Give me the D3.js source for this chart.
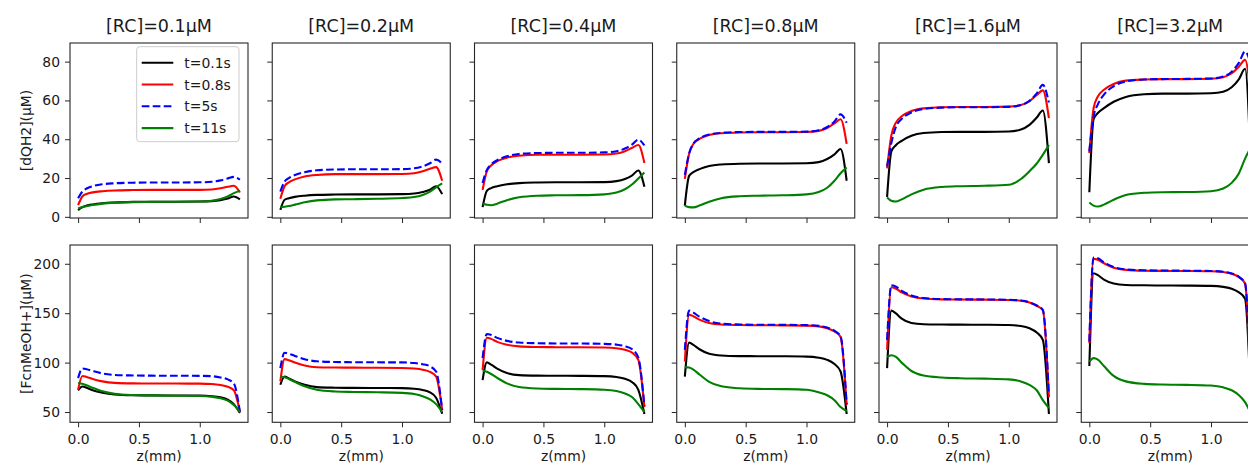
<!DOCTYPE html>
<html>
<head>
<meta charset="utf-8">
<script src="https://cdn.jsdelivr.net/npm/d3@7"></script>
<style>
  body { margin: 0; background: #fff; }
  svg { display: block; }
  text { font-family: "DejaVu Sans", sans-serif; fill: #1a1a1a; }
</style>
</head>
<body>
<svg id="chart"></svg>
<script>
// z positions (mm) where the profiles are read
const zGrid = [0, 0.035, 0.07, 0.12, 0.2, 0.3, 0.45, 0.6, 0.8, 1.0, 1.1, 1.17, 1.23, 1.28, 1.33];

const concLabels = ["0.1", "0.2", "0.4", "0.8", "1.6", "3.2"];
const seriesNames = ["t=0.1s", "t=0.8s", "t=5s", "t=11s"];
const xTicks = [0, 0.5, 1.0];
const topTicks = [0, 20, 40, 60, 80];
const bottomTicks = [50, 100, 150, 200];

// [dQH2](uM), one row per [RC]
const qhBlack = [
    [3.5, 5, 5.8, 6.4, 7.0, 7.4, 7.7, 7.8, 7.8, 7.9, 8.1, 8.6, 9.4, 10.5, 9],
    [3.6, 8.8, 9.6, 10.3, 10.9, 11.3, 11.5, 11.6, 11.6, 11.7, 12.0, 12.8, 14.0, 15.8, 11.7],
    [5, 13.4, 14.8, 15.8, 16.8, 17.4, 17.7, 17.8, 17.8, 17.9, 18.4, 19.5, 21.4, 23.9, 15.5],
    [5.8, 21.1, 23, 24.6, 26.2, 27, 27.4, 27.5, 27.5, 27.6, 28.2, 29.8, 32.2, 35, 18.6],
    [10.2, 33.7, 36.8, 39.2, 41.8, 43.2, 43.7, 43.8, 43.8, 44, 45, 47.4, 51.2, 54.8, 27.7],
    [12.7, 50.4, 53.5, 56, 59.3, 61.8, 63.2, 63.5, 63.5, 63.7, 64.5, 66.8, 71, 76.3, 20]
];
const qhRed = [
    [6, 10.5, 11.8, 12.6, 13.2, 13.6, 13.8, 13.9, 13.9, 13.9, 14.1, 14.7, 15.5, 16, 12.5],
    [9.3, 15.8, 17.8, 19.3, 20.8, 21.6, 22, 22, 22, 22.1, 22.5, 23.5, 24.8, 25.6, 18.6],
    [13.9, 23.5, 26.5, 28.7, 30.5, 31.5, 32, 32, 32, 32.1, 32.6, 33.8, 35.6, 37, 27.7],
    [19.6, 32.5, 37.5, 40.2, 42.2, 43.1, 43.5, 43.6, 43.6, 43.7, 44.3, 45.8, 48.2, 50.3, 37.6],
    [25, 42, 48.3, 51.8, 54.5, 55.9, 56.5, 56.6, 56.6, 56.8, 57.6, 59.6, 62.8, 65.2, 50.9],
    [32.8, 56, 62, 65.5, 68.5, 70.2, 70.8, 71, 71, 71.2, 72, 74, 77.5, 80.9, 60]
];
const qhBlue = [
    [9.6, 13, 14.6, 15.8, 16.8, 17.3, 17.6, 17.7, 17.7, 17.8, 18.1, 18.8, 19.8, 20.6, 19.2],
    [13, 18.2, 20, 21.6, 23, 24, 24.4, 24.5, 24.5, 24.6, 25, 26, 27.6, 29.5, 27.5],
    [17.4, 24.2, 27, 29.2, 31.2, 32.4, 32.9, 33, 33, 33.2, 33.8, 35.2, 37.3, 39.8, 36.8],
    [21.6, 32.5, 37.8, 40.4, 42.4, 43.3, 43.7, 43.8, 43.8, 43.9, 44.6, 46.3, 49.2, 52.8, 48.5],
    [26, 38, 46, 50.5, 53.8, 55.6, 56.3, 56.5, 56.5, 56.7, 57.6, 59.8, 63.6, 68, 58.9],
    [33.7, 51.7, 58, 63, 67.3, 69.8, 70.8, 71, 71.1, 71.3, 72.3, 74.8, 79.5, 85.2, 78]
];
const qhGreen = [
    [4.3, 5, 5.5, 6.1, 6.8, 7.3, 7.6, 7.7, 7.8, 7.9, 8.3, 9.2, 10.5, 12.2, 13.5],
    [5, 5.2, 5.6, 6.3, 7.5, 8.5, 9, 9.1, 9.3, 9.7, 10.2, 11.3, 13, 15.2, 17.2],
    [6.7, 6.2, 6.0, 6.8, 8.6, 10.1, 10.9, 11.1, 11.2, 11.6, 12.5, 14.2, 16.8, 19.8, 22.8],
    [5.8, 5.0, 4.9, 5.8, 7.8, 9.6, 10.6, 10.9, 11.1, 11.6, 12.8, 15, 18.6, 22.5, 25.4],
    [10, 8.3, 7.9, 9, 11.6, 14, 15.4, 15.8, 16, 16.5, 19.5, 23.5, 27.5, 32, 37],
    [7.4, 5.8, 5.3, 6.3, 8.8, 11.2, 12.4, 12.7, 12.8, 13.2, 14.6, 17.5, 22.5, 30, 36]
];

// [FcnMeOH+](uM), one row per [RC]
const fcBlack = [
    [71.8, 75.9, 74.5, 72, 69.5, 67.8, 67, 66.8, 66.7, 66.6, 66, 64.8, 62.5, 58, 49],
    [77.6, 85.9, 84, 81, 77.5, 75.2, 74.6, 74.4, 74.3, 74.2, 73.6, 72.3, 69.8, 64.5, 48.3],
    [82.3, 100.2, 98, 94, 89.5, 87.3, 86.8, 86.7, 86.6, 86.3, 85.4, 83.7, 80.2, 72.5, 48],
    [85.9, 120.2, 118, 113.5, 109, 107.2, 106.6, 106.5, 106.4, 106.1, 105, 102.8, 98.5, 91, 48],
    [94.4, 152.6, 150, 144.5, 140, 138.8, 138.5, 138.4, 138.3, 138, 137, 134.8, 130.5, 123, 48],
    [96.6, 190.4, 188.5, 184, 180, 178.5, 178.2, 178, 177.9, 177.6, 176.6, 174.8, 171, 164.6, 50]
];
const fcRed = [
    [72.5, 86.5, 85.5, 83.5, 81, 79.5, 79, 78.9, 78.8, 78.7, 78.3, 77.3, 75.5, 72, 50],
    [80.9, 103.5, 102.5, 100, 97, 95.3, 95, 94.9, 94.8, 94.6, 94, 92.8, 90.6, 86, 52],
    [92.4, 125.2, 124, 121, 118, 116.4, 115.8, 115.6, 115.5, 115.3, 114.6, 113, 110, 102.8, 55],
    [101, 148.3, 147, 143.5, 140, 138.5, 138, 137.8, 137.7, 137.4, 136.7, 134.8, 131.5, 126, 57],
    [112.9, 176.3, 175, 171, 167, 164.8, 164, 163.8, 163.7, 163.4, 162.6, 160.8, 157.5, 153, 65],
    [119.6, 205, 204, 200.5, 196, 193.8, 193, 192.8, 192.7, 192.4, 191.6, 190, 186.5, 180, 60]
];
const fcBlue = [
    [84.3, 94, 93.3, 91.5, 89, 87.5, 87, 86.8, 86.7, 86.6, 86.2, 85, 83, 79, 50],
    [94.4, 110, 109, 106.8, 103.5, 101.3, 100.6, 100.4, 100.3, 100.2, 99.6, 98.4, 96.2, 91, 52],
    [104.5, 129, 128, 125, 122, 120.3, 119.6, 119.4, 119.3, 119, 118.2, 116.6, 113.5, 105, 56],
    [112.9, 152.6, 150.5, 146.5, 142, 139.5, 138.6, 138.3, 138.2, 137.9, 137.2, 135.4, 132.2, 126.5, 58],
    [123, 178.3, 177, 172.5, 168, 165.3, 164.3, 164, 163.9, 163.6, 162.8, 161, 157.8, 153.3, 67],
    [121.3, 206.4, 205.5, 201.5, 196.8, 194.3, 193.4, 193.2, 193, 192.7, 191.9, 190.2, 186.8, 180, 60]
];
const fcGreen = [
    [79.3, 78.5, 77, 74.5, 71, 68.5, 67.2, 66.8, 66.5, 66.2, 65.4, 64, 61.5, 57, 50],
    [86, 85.2, 83.5, 80.5, 76, 72.5, 70.8, 70.3, 70, 69.4, 68.2, 66, 62.8, 58, 50],
    [91.7, 90.7, 88.5, 84.5, 79, 75.3, 73.8, 73.4, 73.2, 72.6, 71.2, 68.8, 65, 58, 50],
    [95.4, 95, 93, 88, 80.5, 76, 74, 73.4, 73.2, 72.6, 70, 67, 62, 55, 51],
    [105.8, 107.5, 106, 100, 91.5, 87, 85, 84.2, 83.8, 83, 81, 77.5, 72, 62, 54],
    [101, 104.5, 103, 96.5, 86.5, 81, 78.5, 77.8, 77.5, 76.8, 75, 72, 67, 60, 48]
];

const width = 1248;
const height = 464;
const panelLeft = 70;
const panelStep = 202.25;
const panelWidth = 178;
const rows = [
    { top: 43, bottom: 218, domain: [-0.6, 89.6], ticks: topTicks, label: "[dQH2](\u03bcM)",
      series: [qhBlack, qhRed, qhBlue, qhGreen] },
    { top: 245, bottom: 422.3, domain: [39.6, 219], ticks: bottomTicks, label: "[FcnMeOH+](\u03bcM)",
      series: [fcBlack, fcRed, fcBlue, fcGreen] }
];
const colors = ["#000000", "#ff0000", "#0000ff", "#008000"];
const dashes = [null, null, "7.7,3.3", null];
const spineColor = "#262626";

const svg = d3.select("#chart")
    .attr("width", width)
    .attr("height", height);

rows.forEach((row, r) => {
    const y = d3.scaleLinear().domain(row.domain).range([row.bottom, row.top]);

    concLabels.forEach((conc, c) => {
        const left = panelLeft + c * panelStep;
        const x = d3.scaleLinear().domain([-0.0665, 1.3965]).range([left, left + panelWidth]);
        const g = svg.append("g");

        // x axis
        const xAxis = g.append("g")
            .attr("transform", `translate(0,${row.bottom})`)
            .call(d3.axisBottom(x).tickValues(xTicks).tickSize(5).tickPadding(7)
                .tickFormat(r === 1 ? d3.format(".1f") : () => ""));
        // y axis
        const yAxis = g.append("g")
            .attr("transform", `translate(${left},0)`)
            .call(d3.axisLeft(y).tickValues(row.ticks).tickSize(5).tickPadding(5)
                .tickFormat(c === 0 ? d3.format("d") : () => ""));
        [xAxis, yAxis].forEach(a => {
            a.select(".domain").remove();
            a.selectAll("line").attr("stroke", spineColor).attr("stroke-width", 1);
            a.selectAll("text").attr("font-size", "13.9px").attr("fill", "#1a1a1a")
                .attr("font-family", "DejaVu Sans, sans-serif");
        });

        // lines
        row.series.forEach((set, s) => {
            const vals = set[c];
            const line = d3.line()
                .x((d, i) => x(zGrid[i]))
                .y(d => y(d))
                .curve(d3.curveMonotoneX);
            g.append("path")
                .datum(vals)
                .attr("fill", "none")
                .attr("stroke", colors[s])
                .attr("stroke-width", 2.1)
                .attr("stroke-dasharray", dashes[s])
                .attr("d", line);
        });

        // frame
        g.append("rect")
            .attr("x", left).attr("y", row.top)
            .attr("width", panelWidth).attr("height", row.bottom - row.top)
            .attr("fill", "none")
            .attr("stroke", spineColor)
            .attr("stroke-width", 1.1);

        if (r === 0) {
            svg.append("text")
                .attr("x", left + panelWidth / 2)
                .attr("y", 32)
                .attr("text-anchor", "middle")
                .attr("font-size", "17.5px")
                .text(`[RC]=${conc}\u03bcM`);
        } else {
            svg.append("text")
                .attr("x", left + panelWidth / 2)
                .attr("y", 460.5)
                .attr("text-anchor", "middle")
                .attr("font-size", "13.9px")
                .text("z(mm)");
        }
    });

    svg.append("text")
        .attr("transform", `translate(31,${(row.top + row.bottom) / 2}) rotate(-90)`)
        .attr("text-anchor", "middle")
        .attr("font-size", "13.9px")
        .text(row.label);
});

// legend in the first panel
const legend = svg.append("g");
legend.append("rect")
    .attr("x", 136.7).attr("y", 46.7)
    .attr("width", 102.3).attr("height", 95)
    .attr("rx", 3)
    .attr("fill", "#fff").attr("fill-opacity", 0.8)
    .attr("stroke", "#cccccc");
seriesNames.forEach((name, i) => {
    const ly = 62.7 + i * 21.8;
    legend.append("line")
        .attr("x1", 141.7).attr("x2", 173.3)
        .attr("y1", ly).attr("y2", ly)
        .attr("stroke", colors[i])
        .attr("stroke-width", 2.1)
        .attr("stroke-dasharray", dashes[i]);
    legend.append("text")
        .attr("x", 184.3).attr("y", ly + 5)
        .attr("font-size", "13.9px")
        .text(name);
});
</script>
</body>
</html>
